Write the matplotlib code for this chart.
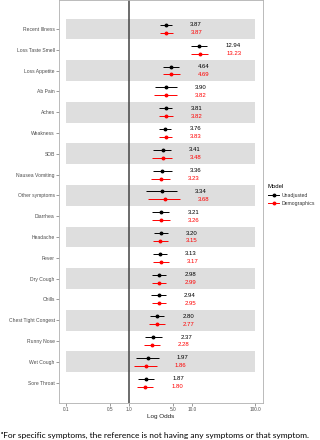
import numpy as np
import matplotlib
matplotlib.use("Agg")
import matplotlib.pyplot as plt
from matplotlib.lines import Line2D

# symptoms, top to bottom
symptoms = ["Recent Illness", "Loss Taste Smell", "Loss Appetite", "Ab Pain", "Aches",
            "Weakness", "SOB", "Nausea Vomiting", "Other symptoms", "Diarrhea",
            "Headache", "Fever", "Dry Cough", "Chills", "Chest Tight Congest",
            "Runny Nose", "Wet Cough", "Sore Throat"]

# unadjusted model
unadj_or = [3.87, 12.94, 4.64, 3.90, 3.81, 3.76, 3.41, 3.36, 3.34, 3.21, 3.20, 3.13, 2.98, 2.94, 2.80, 2.37, 1.97, 1.87]
unadj_lo = [3.14, 9.5, 3.46, 2.56, 3.0, 3.0, 2.4, 2.43, 1.86, 2.34, 2.46, 2.4, 2.32, 2.24, 2.15, 1.8, 1.29, 1.4]
unadj_hi = [4.82, 17.5, 6.3, 5.7, 4.9, 4.7, 4.6, 4.76, 5.7, 4.37, 4.2, 4.05, 3.9, 3.82, 3.64, 3.4, 2.95, 2.52]

# demographics-adjusted model
demo_or = [3.87, 13.23, 4.69, 3.82, 3.82, 3.83, 3.48, 3.23, 3.68, 3.26, 3.15, 3.17, 2.99, 2.95, 2.77, 2.28, 1.86, 1.80]
demo_lo = [3.1, 9.7, 3.46, 2.5, 2.96, 3.0, 2.34, 2.26, 2.0, 2.34, 2.38, 2.43, 2.29, 2.29, 2.1, 1.73, 1.2, 1.34]
demo_hi = [5.05, 18.1, 6.45, 5.7, 5.0, 4.8, 4.76, 4.47, 6.45, 4.47, 4.2, 4.26, 3.9, 3.9, 3.68, 3.1, 2.75, 2.43]

x_ticks = [0.1, 0.5, 1.0, 5.0, 10.0, 100.0]
x_ticklabels = ["0.1", "0.5", "1.0", "5.0", "10.0", "100.0"]

plt.rcParams['font.family'] = ['Liberation Sans', 'DejaVu Sans']

fig = plt.figure(figsize=(3.2, 4.4), dpi=100)
ax = fig.add_axes([59/320, 1 - 403/440, (263-59)/320, 403/440])

n = len(symptoms)
y = np.arange(n)
off = 0.19

# shaded bands on every other row
for i in range(0, n, 2):
    ax.fill_between([0.1, 100], i - 0.5, i + 0.5, color='#dedede', lw=0, zorder=0)

ax.axvline(1.0, color='#444444', lw=1.1, zorder=1)

series = [(unadj_or, unadj_lo, unadj_hi, 'black', -off),
          (demo_or, demo_lo, demo_hi, 'red', off)]
for orv, lo, hi, col, dy in series:
    yy = y + dy
    ax.hlines(yy, lo, hi, color=col, lw=0.7, zorder=2)
    ax.plot(orv, yy, 'o', color=col, ms=1.8, zorder=3)
    for v, h, yi in zip(orv, hi, yy):
        ax.text(h * 1.93, yi, f"{v:.2f}", color=col, fontsize=4.3,
                ha='left', va='center')

ax.set_xscale('log')
ax.set_xlim(0.0774, 134)
ax.set_ylim(17.98, -1.39)
ax.set_xticks(x_ticks)
ax.set_xticklabels(x_ticklabels)
ax.xaxis.set_minor_locator(matplotlib.ticker.NullLocator())
ax.set_yticks(y)
ax.set_yticklabels(symptoms)
ax.tick_params(axis='both', labelsize=3.6, colors='#4d4d4d', length=2, width=0.4, pad=1)
ax.tick_params(axis='x', labelsize=3.4)
for sp in ax.spines.values():
    sp.set_color('#b0b0b0')
    sp.set_linewidth(0.6)
ax.set_xlabel("Log Odds", fontsize=4.6, labelpad=1.5, color='#222222')

# legend
handles = [Line2D([0], [0], color='black', lw=0.7, marker='o', ms=1.8),
           Line2D([0], [0], color='red', lw=0.7, marker='o', ms=1.8)]
leg = fig.legend(handles, ["Unadjusted", "Demographics"], title="Model",
                 loc='upper left', bbox_to_anchor=(268/320, 1 - 184/440),
                 frameon=False, fontsize=3.7, title_fontsize=4.3,
                 handlelength=2.2, handletextpad=0.5, labelspacing=0.7,
                 borderpad=0, borderaxespad=0)
leg._legend_box.align = "left"
for t in leg.get_texts():
    t.set_color('#333333')

fig.text(0.003, 1 - 435/440, "\u1d43For specific symptoms, the reference is not having any symptoms or that symptom.",
         family=['Lato', 'DejaVu Sans'], fontsize=6.0, ha='left', va='center', color='black')

fig.savefig("out.png", dpi=100)
